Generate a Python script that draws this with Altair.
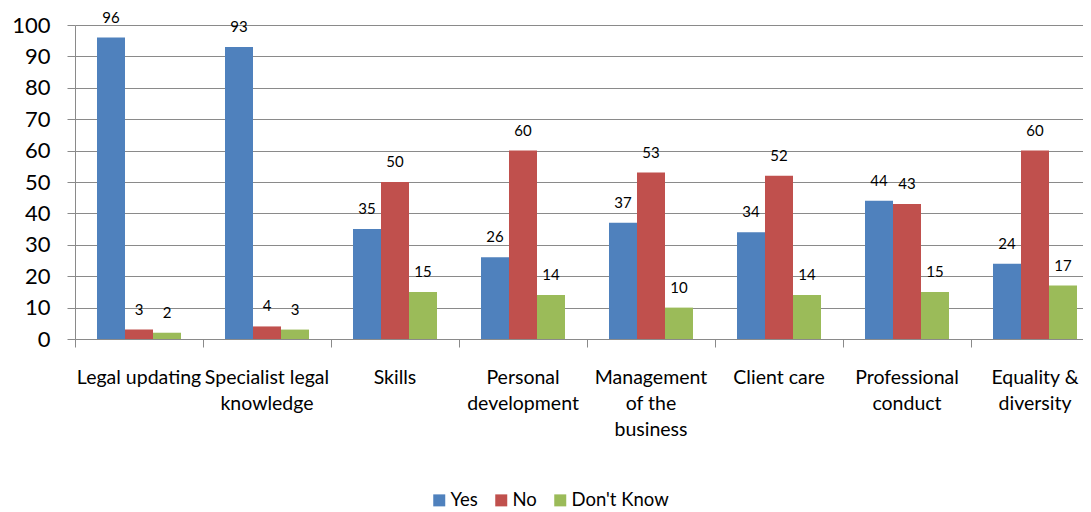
import altair as alt
import pandas as pd

categories = [
    "Legal updating",
    "Specialist legal\nknowledge",
    "Skills",
    "Personal\ndevelopment",
    "Management\nof the\nbusiness",
    "Client care",
    "Professional\nconduct",
    "Equality &\ndiversity",
]
series = ["Yes", "No", "Don't Know"]
yes_vals = [96, 93, 35, 26, 37, 34, 44, 24]
no_vals = [3, 4, 50, 60, 53, 52, 43, 60]
dk_vals = [2, 3, 15, 14, 10, 14, 15, 17]
colors = ["#4F81BD", "#C0504D", "#9BBB59"]
y_ticks = list(range(0, 101, 10))

rows = []
for s, vals in zip(series, [yes_vals, no_vals, dk_vals]):
    for c, v in zip(categories, vals):
        rows.append({"category": c, "series": s, "value": v})
df = pd.DataFrame(rows)

GRAY = "#8a8a8a"

x_enc = alt.X(
    "category:N",
    sort=categories,
    scale=alt.Scale(range=[0, 1024], paddingInner=0, paddingOuter=0),
    axis=alt.Axis(
        title=None,
        bandPosition=0,
        labelExpr="split(datum.label, '\\n')",
        labelAngle=0,
        labelFontSize=19.5,
        labelColor="#000000",
        labelLineHeight=26,
        labelPadding=21,
        labelBaseline="top",
        tickSize=8,
        tickColor=GRAY,
        domainColor=GRAY,
        grid=False,
        labelFlush=False,
        labelOverlap=False,
    ),
)
xoff = alt.XOffset(
    "series:N",
    sort=series,
    scale=alt.Scale(paddingInner=0, paddingOuter=0.7857),
)
y_enc = alt.Y(
    "value:Q",
    scale=alt.Scale(domain=[0, 100], nice=False),
    axis=alt.Axis(
        title=None,
        values=y_ticks,
        labelOverlap=False,
        labelFontSize=22,
        labelColor="#000000",
        labelPadding=17,
        tickSize=8,
        tickColor=GRAY,
        domainColor=GRAY,
        gridColor=GRAY,
        grid=True,
    ),
)
color_enc = alt.Color(
    "series:N",
    sort=series,
    scale=alt.Scale(domain=series, range=colors),
    legend=alt.Legend(
        title=None,
        orient="none",
        direction="horizontal",
        legendX=355,
        legendY=466,
        symbolType="square",
        symbolSize=144,
        symbolStrokeWidth=0,
        labelFontSize=18.5,
        labelColor="#000000",
        labelOffset=2,
        columnPadding=14,
        padding=0,
    ),
)

base = alt.Chart(df).encode(x=x_enc, xOffset=xoff, y=y_enc)
bars = base.mark_bar().encode(color=color_enc)
labels = base.mark_text(
    baseline="alphabetic", dy=-15, fontSize=15, color="#000000"
).encode(text="value:Q")

chart = (
    alt.layer(bars, labels)
    .properties(
        width=1008,
        height=314,
        autosize=alt.AutoSizeParams(type="none"),
        padding={"left": 67, "top": 17, "right": 0, "bottom": 172},
    )
    .configure(font="Lato")
    .configure_view(stroke=None)
)

chart.save("out.html", embed_options={"renderer": "svg", "actions": False})
